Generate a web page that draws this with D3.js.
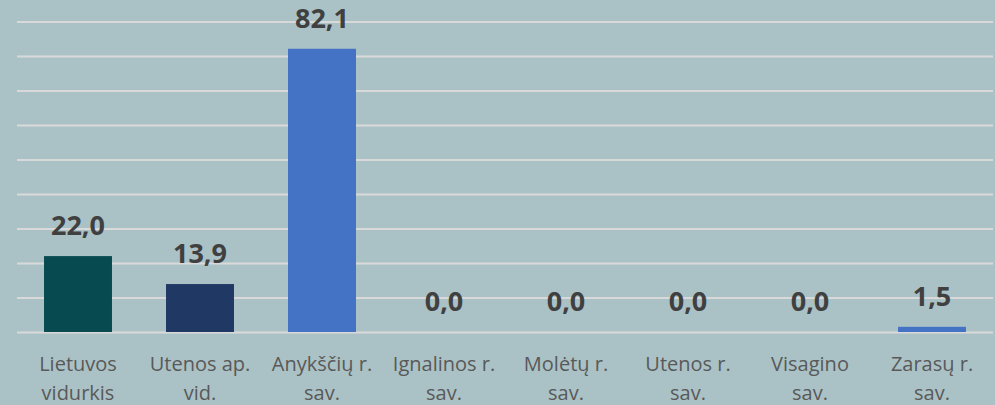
<!DOCTYPE html>
<html>
<head>
<meta charset="utf-8">
<script src="https://cdn.jsdelivr.net/npm/d3@7"></script>
<style>
html,body{margin:0;padding:0;background:#aac2c6;}
svg{display:block;}
</style>
</head>
<body>
<svg id="chart" width="995" height="405"></svg>
<script>
const categories = ["Lietuvos vidurkis","Utenos ap. vid.","Anykščių r. sav.","Ignalinos r. sav.","Molėtų r. sav.","Utenos r. sav.","Visagino sav.","Zarasų r. sav."];
const labelLines = [["Lietuvos","vidurkis"],["Utenos ap.","vid."],["Anykščių r.","sav."],["Ignalinos r.","sav."],["Molėtų r.","sav."],["Utenos r.","sav."],["Visagino","sav."],["Zarasų r.","sav."]];
const values = [22.0, 13.9, 82.1, 0.0, 0.0, 0.0, 0.0, 1.5];
const barColors = ["#074a50","#1f3864","#4472c4","#4472c4","#4472c4","#4472c4","#4472c4","#4472c4"];
const gridTicks = [0,10,20,30,40,50,60,70,80,90];

const svg = d3.select("#chart");
const x = d3.scaleBand().domain(categories).range([17, 993]).paddingInner(0.443).paddingOuter(0.2215);
const y = d3.scaleLinear().domain([0, 90]).range([332, 21.5]);

svg.append("rect").attr("width",995).attr("height",405).attr("fill","#aac2c6");

const grid = svg.append("g").attr("transform","translate(17,0)")
  .call(d3.axisLeft(y).tickValues(gridTicks).tickSize(-976).tickFormat(""));
grid.select(".domain").remove();
grid.selectAll(".tick line").attr("stroke","#d9d9d9").attr("stroke-width",2);

svg.selectAll(".bar").data(values).enter().append("rect")
  .attr("x",(d,i)=>x(categories[i]))
  .attr("width",x.bandwidth())
  .attr("y",d=>y(d))
  .attr("height",d=>y(0)-y(d))
  .attr("fill",(d,i)=>barColors[i]);

const fmt = v => v.toFixed(1).replace(".", ",");
svg.selectAll(".val").data(values).enter().append("text")
  .attr("x",(d,i)=>x(categories[i])+x.bandwidth()/2)
  .attr("y",d=>y(d)-21)
  .attr("text-anchor","middle")
  .attr("font-family","'Open Sans', sans-serif")
  .attr("font-weight","bold")
  .attr("font-size",27)
  .attr("fill","#404040")
  .text(fmt);

const lab = svg.selectAll(".cat").data(labelLines).enter().append("text")
  .attr("text-anchor","middle")
  .attr("font-family","'Open Sans', sans-serif")
  .attr("font-size",20)
  .attr("fill","#595959")
  .attr("transform",(d,i)=>`translate(${x(categories[i])+x.bandwidth()/2},371)`);
lab.selectAll("tspan").data(d=>d).enter().append("tspan")
  .attr("x",0).attr("y",(d,j)=>j*29).text(d=>d);
</script>
</body>
</html>
